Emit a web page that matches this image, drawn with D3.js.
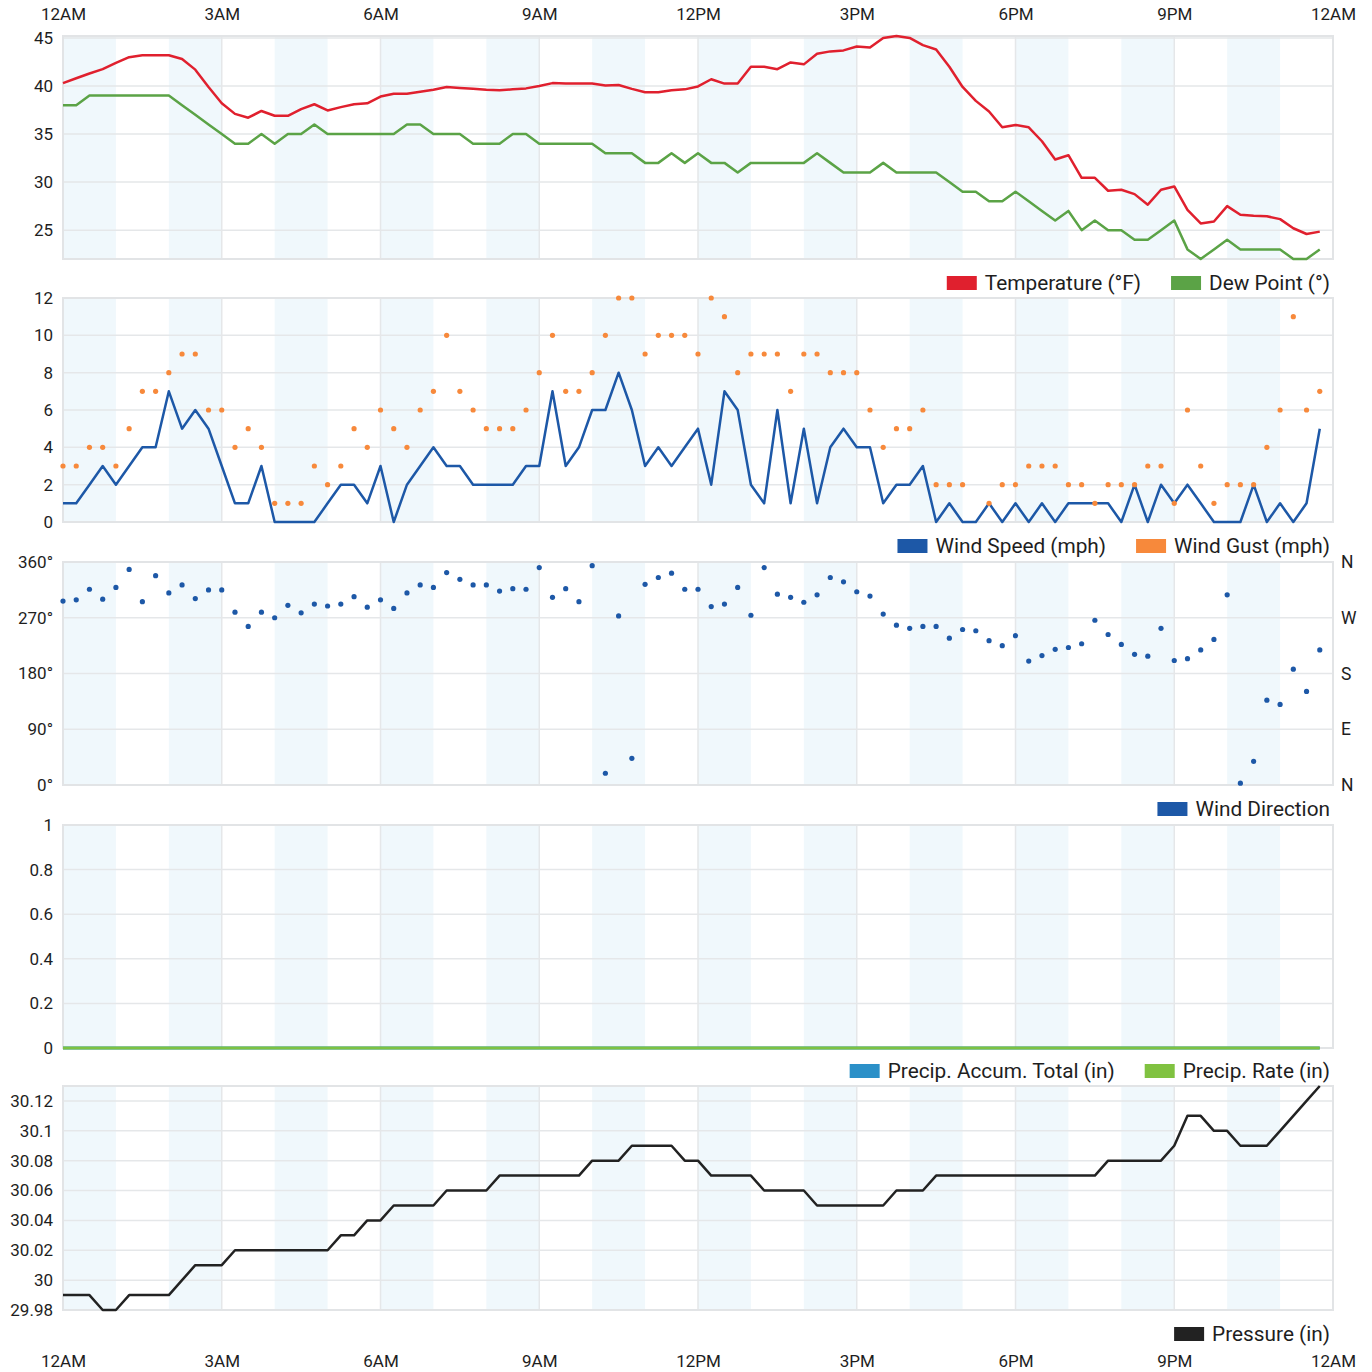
<!DOCTYPE html>
<html><head><meta charset="utf-8">
<script src="https://cdn.jsdelivr.net/npm/d3@7"></script>
<style>body{margin:0;background:#fff;} svg{display:block;font-family:Roboto,"Helvetica Neue",Arial,sans-serif;}</style>
</head><body><svg id="c" width="1372" height="1372"></svg>
<script>
// ---------- DATA (15-minute readings, 96 per series) ----------
const xTickLabels = ["12AM","3AM","6AM","9AM","12PM","3PM","6PM","9PM","12AM"];
const tempTicks = [25,30,35,40,45];
const windTicks = [0,2,4,6,8,10,12];
const dirTicks = [0,90,180,270,360];
const dirLabels = ["N","E","S","W","N"];
const precipTicks = [0,0.2,0.4,0.6,0.8,1];
const pressureTicks = [29.98,30,30.02,30.04,30.06,30.08,30.1,30.12];

const temperature = [
 40.3,40.8,41.3,41.75,42.4,43.0,43.2,43.2,43.2,42.8,
 41.7,39.9,38.2,37.1,36.7,37.4,36.9,36.9,37.6,38.1,
 37.45,37.8,38.1,38.2,38.9,39.2,39.2,39.4,39.6,39.9,
 39.8,39.7,39.6,39.55,39.65,39.75,40.0,40.3,40.25,40.25,
 40.25,40.05,40.1,39.7,39.35,39.35,39.55,39.65,39.95,40.7,
 40.25,40.25,42.0,42.0,41.75,42.45,42.25,43.35,43.6,43.7,
 44.1,44.0,45.0,45.2,45.0,44.25,43.8,42.0,39.9,38.45,
 37.35,35.7,35.95,35.7,34.25,32.35,32.8,30.45,30.45,29.1,
 29.2,28.75,27.65,29.2,29.55,27.1,25.7,25.9,27.5,26.6,
 26.5,26.45,26.15,25.2,24.6,24.85];
const dewPoint = [
 38,38,39,39,39,39,39,39,39,38,
 37,36,35,34,34,35,34,35,35,36,
 35,35,35,35,35,35,36,36,35,35,
 35,34,34,34,35,35,34,34,34,34,
 34,33,33,33,32,32,33,32,33,32,
 32,31,32,32,32,32,32,33,32,31,
 31,31,32,31,31,31,31,30,29,29,
 28,28,29,28,27,26,27,25,26,25,
 25,24,24,25,26,23,22,23,24,23,
 23,23,23,22,22,23];
const windSpeed = [
 1,1,2,3,2,3,4,4,7,5,
 6,5,3,1,1,3,0,0,0,0,
 1,2,2,1,3,0,2,3,4,3,
 3,2,2,2,2,3,3,7,3,4,
 6,6,8,6,3,4,3,4,5,2,
 7,6,2,1,6,1,5,1,4,5,
 4,4,1,2,2,3,0,1,0,0,
 1,0,1,0,1,0,1,1,1,1,
 0,2,0,2,1,2,1,0,0,0,
 2,0,1,0,1,5];
const windGust = [
 3,3,4,4,3,5,7,7,8,9,
 9,6,6,4,5,4,1,1,1,3,
 2,3,5,4,6,5,4,6,7,10,
 7,6,5,5,5,6,8,10,7,7,
 8,10,12,12,9,10,10,10,9,12,
 11,8,9,9,9,7,9,9,8,8,
 8,6,4,5,5,6,2,2,2,null,
 1,2,2,3,3,3,2,2,1,2,
 2,2,3,3,1,6,3,1,2,2,
 2,4,6,11,6,7];
const windDir = [
 297,299,316,300,319,348,296,338,310,323,
 301,315,315,279,256,279,270,290,278,292,
 289,292,304,287,299,285,310,323,319,343,
 332,323,323,313,317,316,351,303,317,296,
 354,19,273,43,324,335,342,316,316,288,
 292,319,274,351,308,303,295,307,335,328,
 312,305,276,258,253,256,256,237,251,249,
 233,225,241,200,209,219,222,228,266,243,
 227,211,208,253,201,204,218,235,307,3,
 38,137,130,187,151,218];
const precipAccum = [
 0,0,0,0,0,0,0,0,0,0, 0,0,0,0,0,0,0,0,0,0,
 0,0,0,0,0,0,0,0,0,0, 0,0,0,0,0,0,0,0,0,0,
 0,0,0,0,0,0,0,0,0,0, 0,0,0,0,0,0,0,0,0,0,
 0,0,0,0,0,0,0,0,0,0, 0,0,0,0,0,0,0,0,0,0,
 0,0,0,0,0,0,0,0,0,0, 0,0,0,0,0,0];
const precipRate = [
 0,0,0,0,0,0,0,0,0,0, 0,0,0,0,0,0,0,0,0,0,
 0,0,0,0,0,0,0,0,0,0, 0,0,0,0,0,0,0,0,0,0,
 0,0,0,0,0,0,0,0,0,0, 0,0,0,0,0,0,0,0,0,0,
 0,0,0,0,0,0,0,0,0,0, 0,0,0,0,0,0,0,0,0,0,
 0,0,0,0,0,0,0,0,0,0, 0,0,0,0,0,0];
const pressure = [
 29.99,29.99,29.99,29.98,29.98,29.99,29.99,29.99,29.99,30.00,
 30.01,30.01,30.01,30.02,30.02,30.02,30.02,30.02,30.02,30.02,
 30.02,30.03,30.03,30.04,30.04,30.05,30.05,30.05,30.05,30.06,
 30.06,30.06,30.06,30.07,30.07,30.07,30.07,30.07,30.07,30.07,
 30.08,30.08,30.08,30.09,30.09,30.09,30.09,30.08,30.08,30.07,
 30.07,30.07,30.07,30.06,30.06,30.06,30.06,30.05,30.05,30.05,
 30.05,30.05,30.05,30.06,30.06,30.06,30.07,30.07,30.07,30.07,
 30.07,30.07,30.07,30.07,30.07,30.07,30.07,30.07,30.07,30.08,
 30.08,30.08,30.08,30.08,30.09,30.11,30.11,30.10,30.10,30.09,
 30.09,30.09,30.10,30.11,30.12,30.13];

// ---------- DRAWING ----------
const svg = d3.select('#c');
const L = 63, R = 1333;
const x = d3.scaleLinear().domain([0,24]).range([L,R]);
const hourOf = i => i*0.25;
const TXT = '#1e1e1e';
const GRID = '#e5e7e9';
const BAND = '#f0f8fc';
const TICK_FS = '17px';
const LEG_FS = '20.8px';

function panel(top, bottom, domain, ticks, fmt) {
  const y = d3.scaleLinear().domain(domain).range([bottom, top]);
  const g = svg.append('g');
  g.selectAll('rect.band').data(d3.range(0,24,2)).join('rect')
    .attr('x', h=>x(h)).attr('width', h=>x(h+1)-x(h))
    .attr('y', top).attr('height', bottom-top).attr('fill', BAND);
  g.selectAll('line.hg').data(ticks).join('line')
    .attr('x1', L).attr('x2', R).attr('y1', d=>y(d)).attr('y2', d=>y(d))
    .attr('stroke', GRID).attr('stroke-width', 1.5);
  g.selectAll('line.vg').data(d3.range(3,24,3)).join('line')
    .attr('x1', h=>x(h)).attr('x2', h=>x(h)).attr('y1', top).attr('y2', bottom)
    .attr('stroke', GRID).attr('stroke-width', 1.5);
  g.append('rect').attr('x', L).attr('y', top).attr('width', R-L).attr('height', bottom-top)
    .attr('fill','none').attr('stroke', '#e2e4e6').attr('stroke-width', 2);
  const ax = svg.append('g').attr('transform', `translate(${L},0)`)
    .call(d3.axisLeft(y).tickValues(ticks).tickFormat(fmt).tickSize(0).tickPadding(10));
  ax.select('.domain').remove();
  ax.selectAll('text').attr('fill', TXT).style('font-size',TICK_FS).style('font-family','Roboto');
  return {y, g};
}

function legend(items, yc) {
  const lg = svg.append('g');
  let right = 1330;
  for (let k = items.length-1; k >= 0; k--) {
    const it = items[k];
    const t = lg.append('text').text(it.label).attr('y', yc).attr('dy','0.35em')
      .attr('fill', TXT).style('font-size',LEG_FS).style('font-family','Roboto');
    const w = t.node().getComputedTextLength();
    t.attr('x', right - w);
    lg.append('rect').attr('x', right - w - 38).attr('y', yc-7).attr('width', 30).attr('height', 14)
      .attr('fill', it.color);
    right = right - w - 38 - 30;
  }
}

// Panel 1: temperature / dew point
{
  const {y, g} = panel(36, 259, [22,45.2], tempTicks, d=>d);
  const line = d3.line().x((d,i)=>x(hourOf(i))).y(d=>y(d));
  g.append('path').datum(dewPoint).attr('d', line).attr('fill','none')
    .attr('stroke','#5ba346').attr('stroke-width',2.5).attr('stroke-linejoin','round');
  g.append('path').datum(temperature).attr('d', line).attr('fill','none')
    .attr('stroke','#e0202e').attr('stroke-width',2.5).attr('stroke-linejoin','round');
  legend([{label:'Temperature (°F)', color:'#e0202e'},{label:'Dew Point (°)', color:'#5ba346'}], 283);
}
// Panel 2: wind speed / gust
{
  const {y, g} = panel(298, 522, [0,12], windTicks, d=>d);
  const line = d3.line().x((d,i)=>x(hourOf(i))).y(d=>y(d));
  g.append('path').datum(windSpeed).attr('d', line).attr('fill','none')
    .attr('stroke','#1d58a7').attr('stroke-width',2.5).attr('stroke-linejoin','round');
  g.selectAll('circle.gust').data(windGust.map((v,i)=>({v,i})).filter(d=>d.v!==null)).join('circle')
    .attr('cx', d=>x(hourOf(d.i))).attr('cy', d=>y(d.v)).attr('r', 2.6).attr('fill','#f7893b');
  legend([{label:'Wind Speed (mph)', color:'#1d58a7'},{label:'Wind Gust (mph)', color:'#f7893b'}], 546);
}
// Panel 3: wind direction
{
  const {y, g} = panel(562, 785, [0,360], dirTicks, d=>d+'°');
  g.selectAll('circle.dir').data(windDir).join('circle')
    .attr('cx', (d,i)=>x(hourOf(i))).attr('cy', d=>y(d)).attr('r', 2.6).attr('fill','#1d58a7');
  const ar = svg.append('g').attr('transform', `translate(${R},0)`)
    .call(d3.axisRight(y).tickValues(dirTicks).tickFormat((d,i)=>dirLabels[i]).tickSize(0).tickPadding(8));
  ar.select('.domain').remove();
  ar.selectAll('text').attr('fill', TXT).style('font-size','17.5px').style('font-family','Roboto');
  legend([{label:'Wind Direction', color:'#1d58a7'}], 809);
}
// Panel 4: precipitation
{
  const {y, g} = panel(825, 1048, [0,1], precipTicks, d=>d3.format('~g')(d));
  const line = d3.line().x((d,i)=>x(hourOf(i))).y(d=>y(d));
  g.append('path').datum(precipAccum).attr('d', line).attr('fill','none')
    .attr('stroke','#2b90c8').attr('stroke-width',3);
  g.append('path').datum(precipRate).attr('d', line).attr('fill','none')
    .attr('stroke','#7dc242').attr('stroke-width',3);
  legend([{label:'Precip. Accum. Total (in)', color:'#2b90c8'},{label:'Precip. Rate (in)', color:'#80c241'}], 1071);
}
// Panel 5: pressure
{
  const {y, g} = panel(1086, 1310, [29.98,30.13], pressureTicks, d=>d3.format('~g')(+d.toFixed(2)));
  const line = d3.line().x((d,i)=>x(hourOf(i))).y(d=>y(d));
  g.append('path').datum(pressure).attr('d', line).attr('fill','none')
    .attr('stroke','#222').attr('stroke-width',2.5).attr('stroke-linejoin','round');
  legend([{label:'Pressure (in)', color:'#222'}], 1334);
}
// Time axes top and bottom
const tickHours = [0,3,6,9,12,15,18,21,24];
const at = svg.append('g').attr('transform','translate(0,20)')
  .call(d3.axisTop(x).tickValues(tickHours).tickFormat((d,i)=>xTickLabels[i]).tickSize(0).tickPadding(0));
at.select('.domain').remove();
at.selectAll('text').attr('fill', TXT).style('font-size',TICK_FS).style('font-family','Roboto');
const ab = svg.append('g').attr('transform','translate(0,1355)')
  .call(d3.axisBottom(x).tickValues(tickHours).tickFormat((d,i)=>xTickLabels[i]).tickSize(0).tickPadding(0));
ab.select('.domain').remove();
ab.selectAll('text').attr('fill', TXT).style('font-size',TICK_FS).style('font-family','Roboto');
</script></body></html>
